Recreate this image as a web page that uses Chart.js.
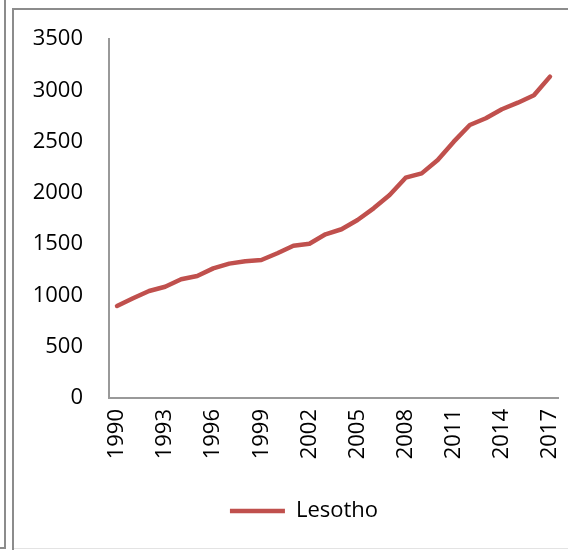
<!DOCTYPE html>
<html>
<head>
<meta charset="utf-8">
<script src="https://cdn.jsdelivr.net/npm/chart.js@4/dist/chart.umd.min.js"></script>
<style>
  html, body { margin: 0; padding: 0; background: #fff; }
  #wrap { position: relative; width: 568px; height: 550px; overflow: hidden; }
  #outer { position: absolute; left: 4px; top: -2px; width: 2px; height: 551px; background: #8c8c8c; }
  #outerb { position: absolute; left: 0px; top: 547px; width: 6px; height: 2px; background: #8c8c8c; }
  #frame { position: absolute; left: 12px; top: 8px; width: 560px; height: 600px;
           border-left: 2px solid #8c8c8c; border-top: 2px solid #8c8c8c; }
  #botline { position: absolute; left: 14px; top: 548px; width: 560px; height: 1px; background: #e3e3e3; }
  canvas { position: absolute; left: 0; top: 0; }
</style>
</head>
<body>
<div id="wrap">
  <canvas id="c" width="568" height="550"></canvas>
  <div id="outer"></div>
  <div id="outerb"></div>
  <div id="frame"></div>
  <div id="botline"></div>
</div>
<script>
const years = [1990,1991,1992,1993,1994,1995,1996,1997,1998,1999,2000,2001,2002,2003,2004,2005,2006,2007,2008,2009,2010,2011,2012,2013,2014,2015,2016,2017];
const lesotho = [897,972,1043,1085,1157,1189,1264,1310,1333,1345,1411,1485,1504,1596,1645,1735,1849,1979,2148,2190,2320,2499,2662,2727,2815,2879,2951,3133];
const yTicks = [0,500,1000,1500,2000,2500,3000,3500];
const seriesName = 'Lesotho';

const FONT = '"Open Sans", Lato, sans-serif';
const RED = '#C0504D';

// let y tick labels extend to the left of the (narrow) y scale box without clipping
const unclipY = {
  id: 'unclipY',
  afterLayout(chart) { chart.scales.y.left = 0; }
};

new Chart(document.getElementById('c'), {
  type: 'line',
  data: {
    labels: years.map(String),
    datasets: [{
      label: seriesName,
      data: lesotho,
      borderColor: RED,
      backgroundColor: RED,
      borderWidth: 4.5,
      borderCapStyle: 'round',
      borderJoinStyle: 'round',
      pointRadius: 0,
      pointStyle: 'line',
      tension: 0,
      fill: false
    }]
  },
  plugins: [unclipY],
  options: {
    responsive: false,
    animation: false,
    layout: { padding: { left: 50, right: 10, top: 39, bottom: 18 } },
    plugins: {
      legend: {
        display: true,
        position: 'bottom',
        labels: {
          usePointStyle: true,
          pointStyleWidth: 55,
          boxHeight: 22,
          color: '#000',
          font: { family: FONT, size: 22 },
          padding: 10
        }
      },
      tooltip: { enabled: false }
    },
    scales: {
      x: {
        offset: true,
        grid: { display: false, drawTicks: false },
        border: { display: true, color: '#999', width: 2 },
        ticks: {
          autoSkip: false,
          maxRotation: 90,
          minRotation: 90,
          padding: 11,
          color: '#000',
          font: { family: FONT, size: 22 },
          callback: function(v, i) { return i % 3 === 0 ? String(years[i]) : ''; }
        },
        afterFit: function(s) { s.height = 92; s.paddingLeft = 0; s.paddingRight = 0; }
      },
      y: {
        min: 0,
        max: 3500,
        afterBuildTicks: function(s) { s.ticks = yTicks.map(v => ({ value: v })); },
        grid: { display: false, drawTicks: false },
        border: { display: true, color: '#999', width: 2 },
        ticks: {
          padding: 26,
          color: '#000',
          font: { family: FONT, size: 22 },
          callback: function(v) { return String(v); }
        },
        afterFit: function(s) { s.width = 59; s.paddingTop = 0; s.paddingBottom = 0; }
      }
    }
  }
});
</script>
</body>
</html>
